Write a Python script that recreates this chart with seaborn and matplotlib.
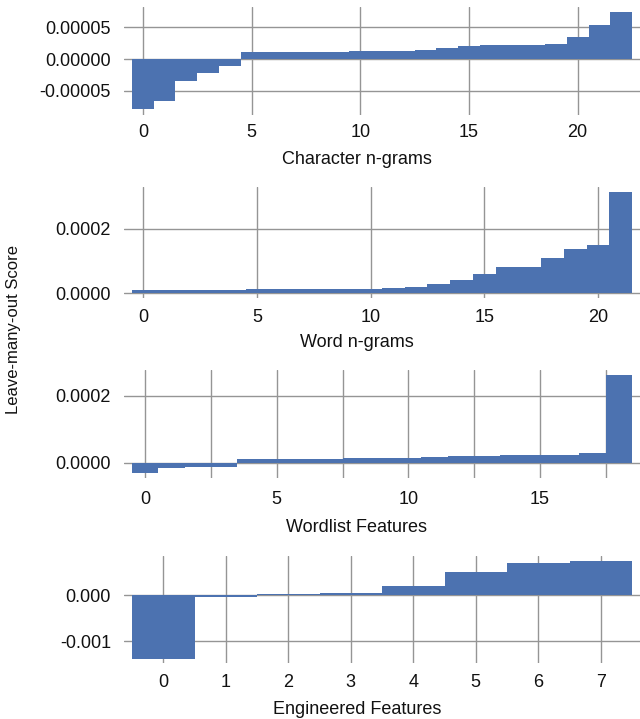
import matplotlib
matplotlib.use("Agg")
import matplotlib.pyplot as plt
import seaborn as sns
import numpy as np
import pandas as pd
from matplotlib.ticker import FormatStrFormatter, FixedLocator

# ---------------- data ----------------
char_ngrams = [-7.95e-5, -6.58e-5, -3.42e-5, -2.16e-5, -1.05e-5,
               1.10e-5, 1.10e-5, 1.10e-5, 1.10e-5, 1.10e-5,
               1.26e-5, 1.26e-5, 1.26e-5, 1.42e-5, 1.74e-5,
               2.05e-5, 2.20e-5, 2.20e-5, 2.20e-5, 2.42e-5,
               3.47e-5, 5.40e-5, 7.42e-5]
word_ngrams = [0.95e-5, 0.95e-5, 0.95e-5, 0.95e-5, 0.95e-5,
               1.35e-5, 1.35e-5, 1.35e-5, 1.35e-5, 1.35e-5, 1.35e-5,
               1.66e-5, 1.97e-5, 2.70e-5, 4.10e-5, 5.80e-5,
               8.20e-5, 8.20e-5, 1.10e-4, 1.38e-4, 1.50e-4, 3.15e-4]
wordlist = [-3.0e-5, -1.5e-5, -1.2e-5, -1.2e-5, 1.1e-5, 1.1e-5, 1.1e-5,
            1.1e-5, 1.4e-5, 1.4e-5, 1.4e-5, 1.7e-5, 2.0e-5, 2.0e-5,
            2.3e-5, 2.3e-5, 2.3e-5, 2.9e-5, 2.62e-4]
engineered = [-1.385e-3, -4.5e-5, 2.2e-5, 5.0e-5, 1.96e-4, 5.0e-4, 6.96e-4, 7.4e-4]

xlabels = ["Character n-grams", "Word n-grams", "Wordlist Features", "Engineered Features"]
ylabel = "Leave-many-out Score"
yticks = [[-5e-5, 0, 5e-5], [0, 2e-4], [0, 2e-4], [-1e-3, 0]]
yfmts = ["%.5f", "%.4f", "%.4f", "%.3f"]
xticks_major = [[0, 5, 10, 15, 20], [0, 5, 10, 15, 20], [0, 5, 10, 15], [0, 1, 2, 3, 4, 5, 6, 7]]
xticks_minor = [[], [], [2.5, 7.5, 12.5, 17.5], []]
ylims = [(-8.83e-5, 8.2e-5), (-1.55e-5, 3.31e-4), (-4.5e-5, 2.77e-4), (-1.478e-3, 8.48e-4)]

series = [char_ngrams, word_ngrams, wordlist, engineered]

# ---------------- style ----------------
sns.set_style("white")
plt.rcParams['font.family'] = ['Liberation Sans', 'DejaVu Sans']
TXT = "#111111"
GRID = "#959595"
BAR = "#4C72B0"
FS = 13

W, H = 640, 719
fig = plt.figure(figsize=(W / 100, H / 100), dpi=100)

# pixel boxes (top, bottom) for each panel
boxes = [(7, 115), (187, 298), (370, 477.7), (556, 663)]
left_px, right_px = 124, 640
tick_pads = [6.8, 7.6, 9.9, 7.6]
xlabel_tops = [150.5, 334.2, 519.5, 701.5]
xlabel_center_px = 357
margin_px = 8.0

for i, vals in enumerate(series):
    top, bot = boxes[i]
    ax = fig.add_axes([left_px / W, 1 - bot / H, (right_px - left_px) / W, (bot - top) / H])
    n = len(vals)
    df = pd.DataFrame({"idx": np.arange(n), "score": vals})
    sns.barplot(data=df, x="idx", y="score", color=BAR, saturation=1, width=1.0,
                linewidth=0, errorbar=None, ax=ax)
    unit_px = (right_px - left_px - 2 * margin_px) / n
    m = margin_px / unit_px
    ax.set_xlim(-0.5 - m, n - 0.5 + m)
    ax.set_ylim(*ylims[i])
    ax.xaxis.set_major_locator(FixedLocator(xticks_major[i]))
    ax.xaxis.set_minor_locator(FixedLocator(xticks_minor[i]))
    ax.set_xticklabels([str(t) for t in xticks_major[i]])
    ax.set_yticks(yticks[i])
    ax.yaxis.set_major_formatter(FormatStrFormatter(yfmts[i]))
    ax.set_axisbelow(True)
    ax.grid(True, which="both", axis="x", color=GRID, linewidth=1.0)
    ax.grid(True, which="major", axis="y", color=GRID, linewidth=1.0)
    for s in ax.spines.values():
        s.set_visible(False)
    ax.tick_params(axis="x", which="both", length=0, pad=tick_pads[i], labelsize=FS, labelcolor=TXT)
    ax.tick_params(axis="y", length=0, pad=9.4, labelsize=FS, labelcolor=TXT)
    ax.set_ylabel("")
    ax.set_xlabel(xlabels[i], fontsize=FS, color=TXT)
    ax.xaxis.set_label_coords((xlabel_center_px - left_px) / (right_px - left_px),
                              (bot - xlabel_tops[i]) / (bot - top))

fig.text(14 / W, 1 - 330 / H, ylabel, rotation=90, ha="center", va="center",
         fontsize=12, color=TXT)

fig.savefig("out.png", dpi=100)
